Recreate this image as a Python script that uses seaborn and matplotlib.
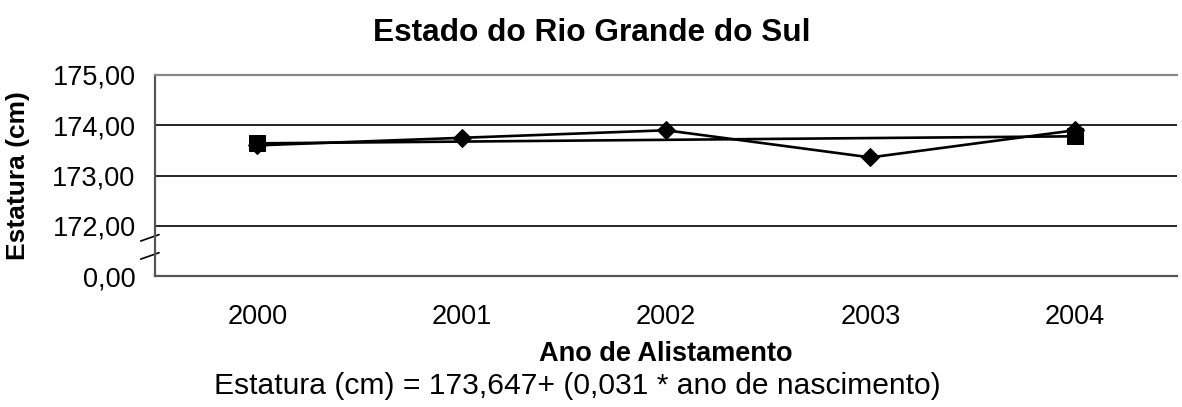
import numpy as np
import pandas as pd
import seaborn as sns
import matplotlib.pyplot as plt

sns.set_style("white")
plt.rcParams['font.family'] = ['Liberation Sans', 'DejaVu Sans']
plt.rcParams['text.color'] = 'black'
plt.rcParams['xtick.color'] = 'black'
plt.rcParams['ytick.color'] = 'black'
plt.rcParams['axes.labelcolor'] = 'black'

anos = ['2000', '2001', '2002', '2003', '2004']
estatura = [173.60, 173.75, 173.90, 173.36, 173.90]
# trend line, only its two end points are marked
anos_tend = ['2000', '2004']
tendencia = [173.64, 173.78]

# broken axis: "0,00" is drawn one unit below 172
y_ticks = [171, 172, 173, 174, 175]
y_labels = ['0,00', '172,00', '173,00', '174,00', '175,00']

df = pd.DataFrame({'ano': anos, 'pos': range(len(anos)), 'estatura': estatura})
df_t = pd.DataFrame({'pos': [anos.index(a) for a in anos_tend], 'estatura': tendencia})

fig = plt.figure(figsize=(11.82, 4.07), dpi=100)
ax = fig.add_axes([155 / 1182, 1 - 276 / 407, 1022 / 1182, 201 / 407])

sns.lineplot(data=df_t, x='pos', y='estatura', ax=ax, color='black', lw=1.9,
             marker='s', markersize=11, markeredgecolor='black')
sns.lineplot(data=df, x='pos', y='estatura', ax=ax, color='black', lw=1.9,
             marker='D', markersize=9, markeredgecolor='black')

ax.set_xlim(-0.5, 4.5)
ax.set_ylim(171, 175)
ax.set_yticks(y_ticks)
ax.set_yticklabels(y_labels, fontsize=19.5)
ax.set_xticks(range(len(anos)))
ax.set_xticklabels(anos, fontsize=19.5)
ax.set_xticks(np.arange(-0.5, 4.6, 1), minor=True)
ax.tick_params(axis='x', which='major', length=0, pad=20)
ax.tick_params(axis='x', which='minor', length=7, width=1.2, color='#555555', direction='out')
ax.tick_params(axis='y', length=6, width=1.2, color='#555555', direction='out', pad=8)

for y in [172, 173, 174]:
    ax.axhline(y, color='black', lw=1.2, zorder=0)

ax.spines['left'].set_color('#555555')
ax.spines['bottom'].set_color('#555555')
ax.spines['top'].set_color('#888888')
for s in ['left', 'bottom', 'top']:
    ax.spines[s].set_linewidth(1.6)
ax.spines['right'].set_visible(False)

# break marks on the y axis
for yb in [0.19, 0.10]:
    ax.plot([-0.014, 0.004], [yb - 0.016, yb + 0.016], transform=ax.transAxes,
            color='black', lw=1.2, clip_on=False)

ax.set_xlabel('Ano de Alistamento', fontsize=19.5, fontweight='bold')
ax.xaxis.set_label_coords(0.5, -0.325)
ax.set_ylabel('Estatura (cm)', fontsize=19, fontweight='bold')
ax.yaxis.set_label_coords(-0.122, 0.5)
fig.text(592 / 1182, 1 - 33 / 407, 'Estado do Rio Grande do Sul', fontsize=22.8,
         fontweight='bold', ha='center', va='center')
fig.text(577 / 1182, 1 - 386 / 407, 'Estatura (cm) = 173,647+ (0,031 * ano de nascimento)',
         fontsize=21.6, ha='center', va='center')

fig.savefig('out.png', dpi=100)
